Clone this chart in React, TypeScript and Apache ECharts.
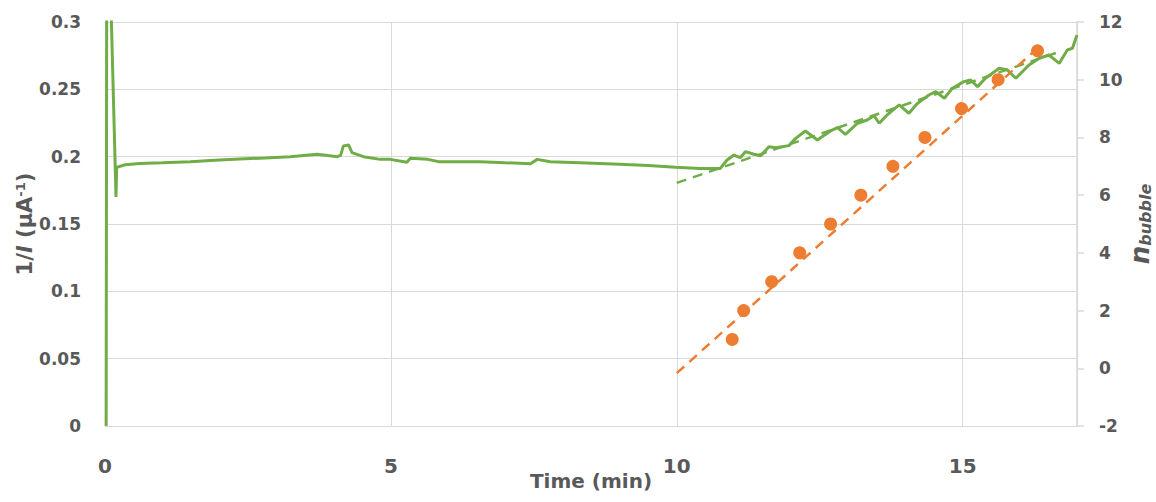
import React, { useEffect, useRef } from "react";
import * as echarts from "echarts";

// Green trace: time (min) and 1/I (µA^-1)
const greenTime = [
  0.02, 0.03, 0.10, 0.163, 0.192, 0.204, 0.35, 0.61, 1.0, 1.49, 2.0, 2.36, 2.8, 3.24, 3.71, 3.9, 4.06, 4.12,
  4.17, 4.26, 4.32, 4.52, 4.81, 4.99, 5.28, 5.34, 5.65, 5.83, 6.56, 7.0, 7.44, 7.56, 7.79, 8.3, 8.89, 9.5,
  9.98, 10.41, 10.76, 10.88, 11.0, 11.11, 11.2, 11.35, 11.47, 11.61, 11.73, 11.84, 11.96, 12.08, 12.25,
  12.46, 12.54, 12.69, 12.81, 12.95, 13.16, 13.33, 13.45, 13.54, 13.68, 13.89, 14.06, 14.21, 14.41, 14.53,
  14.68, 14.82, 15.02, 15.14, 15.26, 15.4, 15.64, 15.78, 15.93, 16.16, 16.34, 16.51, 16.69, 16.83, 16.92, 17.0,
];
const greenInv = [
  0, 0.32, 0.32, 0.218, 0.17, 0.192, 0.194, 0.195, 0.1955, 0.1963, 0.1975, 0.1983, 0.199, 0.2, 0.2018, 0.2008,
  0.2, 0.201, 0.208, 0.2087, 0.203, 0.2, 0.198, 0.198, 0.1958, 0.1988, 0.198, 0.1963, 0.1963, 0.1955, 0.1948,
  0.198, 0.1963, 0.1955, 0.1946, 0.1935, 0.1921, 0.1912, 0.1912, 0.1975, 0.2012, 0.1992, 0.2037, 0.2018,
  0.2007, 0.2074, 0.2067, 0.2074, 0.2082, 0.2136, 0.2191, 0.2124, 0.2148, 0.2191, 0.2215, 0.2166, 0.2248,
  0.2272, 0.2304, 0.2248, 0.231, 0.2384, 0.2322, 0.2396, 0.2458, 0.2483, 0.2434, 0.2508, 0.2557, 0.2569,
  0.252, 0.2582, 0.2656, 0.2644, 0.2582, 0.2681, 0.2731, 0.2755, 0.2693, 0.2792, 0.2805, 0.2904,
];

// Green linear trend (two end points)
const greenTrendTime = [10.0, 16.63];
const greenTrendInv = [0.1805, 0.277];

// Orange bubbles: time (min) and bubble count
const bubbleTime = [10.97, 11.17, 11.66, 12.15, 12.69, 13.22, 13.78, 14.34, 14.98, 15.62, 16.31];
const bubbleCount = [1, 2, 3, 4, 5, 6, 7, 8, 9, 10, 11];

// Orange linear trend (two end points)
const bubbleTrendTime = [10.0, 16.37];
const bubbleTrendCount = [-0.17, 11.2];

const GREEN = "#70ad47";
const ORANGE = "#ed7d31";
const GRID = "#d9d9d9";
const TEXT = "#595959";
const FONT = "DejaVu Sans";

const zip = (a: number[], b: number[]) => a.map((v, i) => [v, b[i]]);

export default function App() {
  const ref = useRef<HTMLDivElement>(null);
  useEffect(() => {
    if (!ref.current) return;
    const chart = echarts.init(ref.current, undefined, { renderer: "svg" });
    chart.setOption({
      animation: false,
      backgroundColor: "#ffffff",
      grid: { left: 105, right: 79, top: 22, bottom: 76, containLabel: false, outerBoundsMode: "none" },
      xAxis: {
        type: "value",
        min: 0,
        max: 17,
        interval: 5,
        name: "Time (min)",
        nameLocation: "middle",
        nameGap: 45,
        nameMoveOverlap: false,
        nameTextStyle: { fontFamily: FONT, fontWeight: "bold", fontSize: 20, color: TEXT },
        axisLine: { show: false },
        axisTick: { show: false },
        splitLine: { show: true, lineStyle: { color: GRID, width: 1 } },
        axisLabel: {
          margin: 30,
          fontFamily: FONT,
          fontWeight: "bold",
          fontSize: 20,
          color: TEXT,
          formatter: (v: number) => (v === 17 ? "" : String(v)),
        },
      },
      yAxis: [
        {
          type: "value",
          min: 0,
          max: 0.3,
          interval: 0.05,
          name: "1/{i|I} (µA{sup|-1})",
          nameLocation: "middle",
          nameGap: 70,
          nameRotate: 90,
          nameMoveOverlap: false,
          nameTextStyle: {
            fontFamily: FONT,
            fontWeight: "bold",
            fontSize: 21,
            color: TEXT,
            rich: {
              i: { fontFamily: FONT, fontWeight: "bold", fontStyle: "italic", fontSize: 21, color: TEXT },
              sup: { fontFamily: FONT, fontWeight: "bold", fontSize: 13, color: TEXT, verticalAlign: "top", padding: [0, 0, 8, 0] },
            },
          },
          axisLine: { show: false },
          axisTick: { show: false },
          splitLine: { show: true, lineStyle: { color: GRID, width: 1 } },
          axisLabel: { margin: 24, fontFamily: FONT, fontWeight: "bold", fontSize: 17, color: TEXT },
        },
        {
          type: "value",
          position: "right",
          min: -2,
          max: 12,
          interval: 2,
          name: "{n|n}{sub|bubble}",
          nameLocation: "middle",
          nameGap: 50,
          nameRotate: 90,
          nameMoveOverlap: false,
          nameTextStyle: {
            color: TEXT,
            rich: {
              n: { fontFamily: FONT, fontWeight: "bold", fontStyle: "italic", fontSize: 26, color: TEXT },
              sub: { fontFamily: FONT, fontWeight: "bold", fontStyle: "italic", fontSize: 16, color: TEXT, verticalAlign: "bottom", padding: [8, 0, 0, 0] },
            },
          },
          axisLine: { show: true, lineStyle: { color: GRID, width: 1.5 } },
          axisTick: { show: true, length: 7, lineStyle: { color: GRID, width: 1.5 } },
          splitLine: { show: false },
          axisLabel: { margin: 22, fontFamily: FONT, fontWeight: "bold", fontSize: 17, color: TEXT },
        },
      ],
      series: [
        {
          type: "line",
          yAxisIndex: 0,
          data: zip(greenTime, greenInv),
          showSymbol: false,
          symbol: "none",
          clip: true,
          lineStyle: { color: GREEN, width: 3 },
          z: 2,
        },
        {
          type: "line",
          yAxisIndex: 0,
          data: zip(greenTrendTime, greenTrendInv),
          symbol: "none",
          lineStyle: { color: GREEN, width: 2.5, type: [10, 7] },
          z: 3,
        },
        {
          type: "line",
          yAxisIndex: 1,
          data: zip(bubbleTrendTime, bubbleTrendCount),
          symbol: "none",
          lineStyle: { color: ORANGE, width: 2.5, type: [10, 7] },
          z: 4,
        },
        {
          type: "scatter",
          yAxisIndex: 1,
          data: zip(bubbleTime, bubbleCount),
          symbol: "circle",
          symbolSize: 13,
          itemStyle: { color: ORANGE, opacity: 1 },
          z: 5,
        },
      ],
    });
    return () => chart.dispose();
  }, []);
  return <div ref={ref} style={{ position: "absolute", left: 0, top: 0, width: 1156, height: 502 }} />;
}
